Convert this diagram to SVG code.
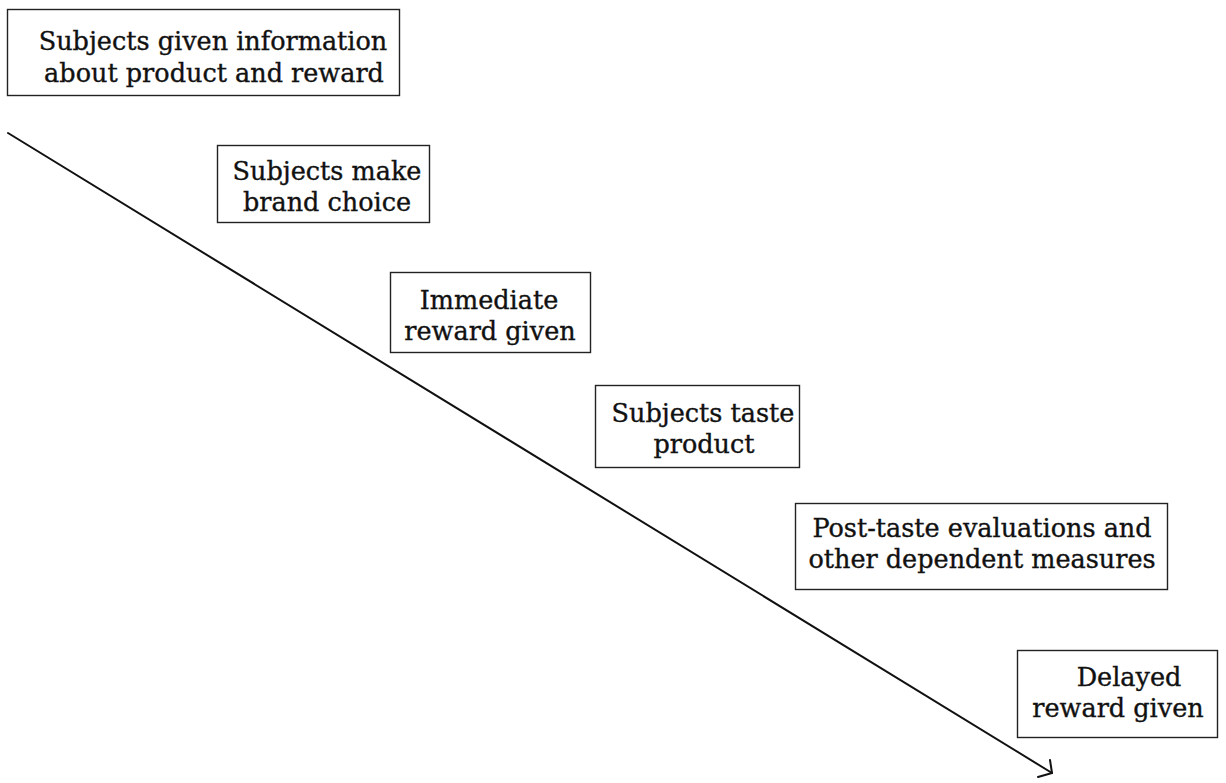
<svg xmlns="http://www.w3.org/2000/svg" width="1226" height="783" viewBox="0 0 1226 783">
<style>
  .box { fill: #ffffff; stroke: #222222; stroke-width: 1.4; }
  .lbl { font-family: "DejaVu Serif", "Liberation Serif", serif; font-size: 25.5px; fill: #111111; stroke: #111111; stroke-width: 0.35; text-anchor: middle; }
  .conn { fill: none; stroke: #111111; stroke-width: 2; stroke-linecap: round; stroke-linejoin: round; }
</style>
<rect width="1226" height="783" fill="#ffffff"/>
<g id="connectors">
  <line class="conn" x1="8" y1="133" x2="1052" y2="773"/>
  <polyline class="conn" points="1050,760 1052,773 1038,777"/>
</g>
<g id="node1">
  <rect class="box" x="7.5" y="9.5" width="392" height="86"/>
  <text class="lbl" x="213" y="50">Subjects given information</text>
  <text class="lbl" x="214" y="82">about product and reward</text>
</g>
<g id="node2">
  <rect class="box" x="217.5" y="145.5" width="212" height="77"/>
  <text class="lbl" x="327" y="180">Subjects make</text>
  <text class="lbl" x="327" y="211">brand choice</text>
</g>
<g id="node3">
  <rect class="box" x="390.5" y="272.5" width="200" height="80"/>
  <text class="lbl" x="489" y="309">Immediate</text>
  <text class="lbl" x="490" y="340">reward given</text>
</g>
<g id="node4">
  <rect class="box" x="595.5" y="385.5" width="204" height="82"/>
  <text class="lbl" x="703" y="422">Subjects taste</text>
  <text class="lbl" x="704" y="453">product</text>
</g>
<g id="node5">
  <rect class="box" x="795.5" y="503.5" width="372" height="86"/>
  <text class="lbl" x="982" y="537">Post-taste evaluations and</text>
  <text class="lbl" x="982" y="568">other dependent measures</text>
</g>
<g id="node6">
  <rect class="box" x="1017.5" y="650.5" width="200" height="87"/>
  <text class="lbl" x="1129" y="686">Delayed</text>
  <text class="lbl" x="1118" y="717">reward given</text>
</g>
</svg>
